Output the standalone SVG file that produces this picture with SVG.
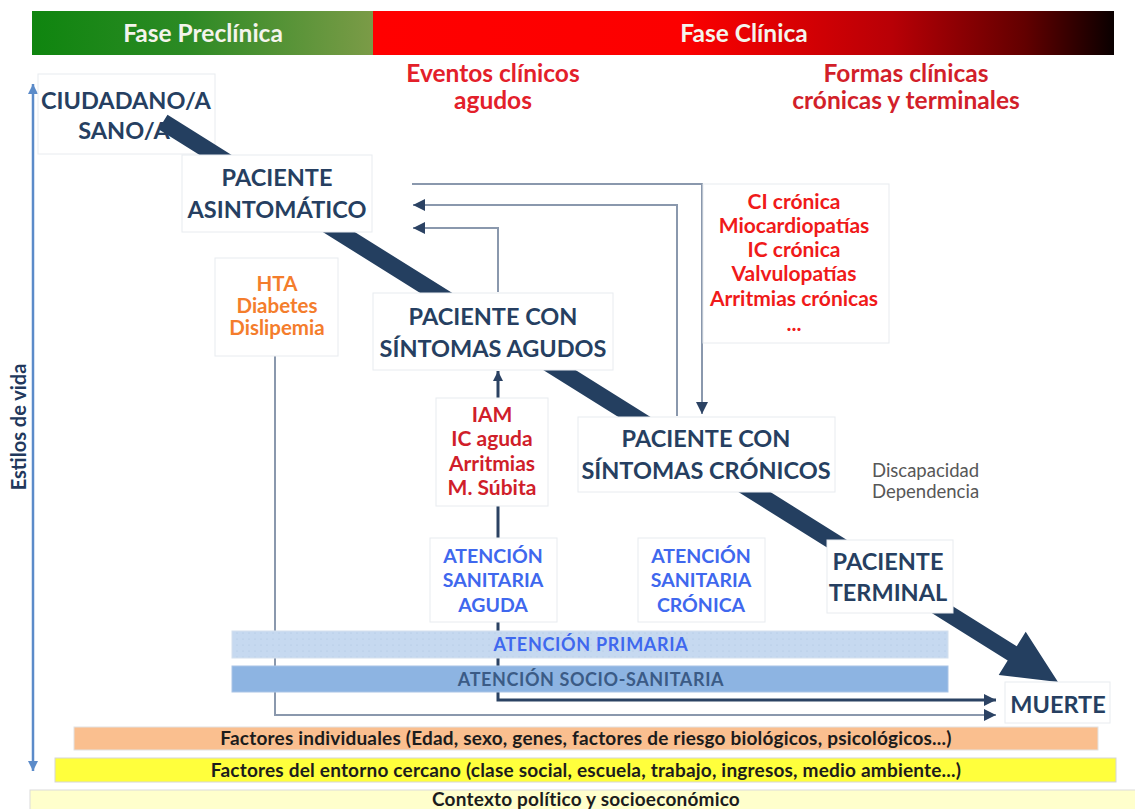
<svg xmlns="http://www.w3.org/2000/svg" width="1135" height="809" viewBox="0 0 1135 809">
  <defs>
    <linearGradient id="gPre" x1="0" y1="0" x2="1" y2="0">
      <stop offset="0" stop-color="#0f850f"/>
      <stop offset="0.45" stop-color="#2c8a24"/>
      <stop offset="1" stop-color="#7b9b47"/>
    </linearGradient>
    <linearGradient id="gCli" x1="0" y1="0" x2="1" y2="0">
      <stop offset="0" stop-color="#ff0000"/>
      <stop offset="0.42" stop-color="#fc0000"/>
      <stop offset="0.7" stop-color="#b80006"/>
      <stop offset="0.88" stop-color="#620000"/>
      <stop offset="1" stop-color="#0a0000"/>
    </linearGradient>
    <pattern id="dots" width="6" height="6" patternUnits="userSpaceOnUse">
      <rect width="6" height="6" fill="#c6d9f0"/>
      <circle cx="3" cy="3" r="0.6" fill="#aec4e0"/>
    </pattern>
    <marker id="tri" viewBox="0 0 10 10" refX="10" refY="5" markerWidth="14" markerHeight="12" markerUnits="userSpaceOnUse" orient="auto">
      <path d="M0,0 L10,5 L0,10 z" fill="#2b4263"/>
    </marker>
    <marker id="triS" viewBox="0 0 10 10" refX="10" refY="5" markerWidth="11" markerHeight="10" markerUnits="userSpaceOnUse" orient="auto">
      <path d="M0,0 L10,5 L0,10 z" fill="#2b4263"/>
    </marker>
    <marker id="axisHead" viewBox="0 0 10 10" refX="10" refY="5" markerWidth="12" markerHeight="10" markerUnits="userSpaceOnUse" orient="auto-start-reverse">
      <path d="M0,0 L10,5 L0,10 z" fill="#5b8bc9"/>
    </marker>
    <style>
      text { font-family: Lato, "Liberation Sans", sans-serif; font-weight: bold; text-anchor: middle; }
      .box { fill: #ffffff; stroke: #e8ebef; stroke-width: 1; }
      .title { fill: #263f61; font-size: 23.5px; }
      .phase { fill: #f4f4ec; font-size: 24.5px; }
      .head { font-size: 24.5px; }
      .red { fill: #f01a1a; font-size: 21px; }
      .dred { fill: #d01e2a; font-size: 21px; }
      .orange { fill: #f47d2c; font-size: 20.5px; }
      .blue { fill: #3f68ee; font-size: 19.5px; }
      .gray { fill: #575757; font-size: 18.5px; font-weight: normal; text-anchor: start; }
      .factor { fill: #1c1c1c; font-size: 19px; letter-spacing: 0.2px; }
      .thin { fill: none; stroke: #8a98ad; stroke-width: 2; }
      .dark { fill: none; stroke: #2b4263; stroke-width: 3; }
    </style>
  </defs>

  <!-- phase banner -->
  <rect x="32" y="11" width="341" height="44" fill="url(#gPre)"/>
  <rect x="373" y="11" width="741" height="44" fill="url(#gCli)"/>
  <text class="phase" x="203" y="42">Fase Preclínica</text>
  <text class="phase" x="744" y="42">Fase Clínica</text>

  <!-- column headings -->
  <text class="head" x="493" y="82" fill="#e3202a">Eventos clínicos</text>
  <text class="head" x="493" y="109" fill="#e3202a">agudos</text>
  <text class="head" x="906" y="82" fill="#d21f2a">Formas clínicas</text>
  <text class="head" x="906" y="109" fill="#d21f2a">crónicas y terminales</text>

  <!-- lifestyle axis -->
  <line x1="33" y1="84" x2="33" y2="771" stroke="#5b8bc9" stroke-width="2.5" marker-start="url(#axisHead)" marker-end="url(#axisHead)"/>
  <text x="18" y="427" transform="rotate(-90 18 427)" fill="#22385c" font-size="20" dominant-baseline="central">Estilos de vida</text>

  <g id="n-ciudadano">
    <rect class="box" x="38" y="74" width="177" height="80"/>
    <text class="title" x="126" y="109">CIUDADANO/A</text>
    <text class="title" x="124" y="139">SANO/A</text>
  </g>

  <g id="connectors">
    <!-- main disease course arrow -->
    <polygon fill="#243f60" points="167.5,114.8 1016.7,646.2 1025.7,631.8 1058,682 998.7,675 1007.7,660.6 158.5,129.2"/>
    <!-- feedback paths -->
    <path class="thin" d="M412,184 H702 V414" marker-end="url(#tri)"/>
    <path class="thin" d="M677,416 V205 H413" marker-end="url(#tri)"/>
    <path class="thin" d="M498,292 V228 H413" marker-end="url(#tri)"/>
    <!-- acute events -->
    <path class="dark" d="M498,398 V371" marker-end="url(#triS)"/>
    <path class="dark" d="M498,506 V538"/>
    <path class="dark" d="M498,622 V700 H996" marker-end="url(#tri)"/>
    <path class="thin" d="M275,350 V715 H996" marker-end="url(#tri)"/>
  </g>

  <!-- care levels -->
  <g id="care-bars">
    <rect x="232" y="631" width="716" height="27" fill="url(#dots)" stroke="#d4e0ee"/>
    <text x="591" y="651" fill="#3f68ee" font-size="18" letter-spacing="0.7">ATENCIÓN PRIMARIA</text>
    <rect x="232" y="666" width="716" height="26" fill="#8db4e2" stroke="#a9c4e6"/>
    <text x="591" y="686" fill="#3b5b86" font-size="18" letter-spacing="0.6">ATENCIÓN SOCIO-SANITARIA</text>
  </g>

  <g id="n-asintomatico">
    <rect class="box" x="182" y="155" width="190" height="77"/>
    <text class="title" x="277" y="186">PACIENTE</text>
    <text class="title" x="277" y="218">ASINTOMÁTICO</text>
  </g>

  <g id="n-factores-riesgo">
    <rect class="box" x="215" y="258" width="123" height="98"/>
    <text class="orange" x="277" y="291">HTA</text>
    <text class="orange" x="277" y="313">Diabetes</text>
    <text class="orange" x="277" y="335">Dislipemia</text>
  </g>

  <g id="n-agudos">
    <rect class="box" x="373" y="293" width="240" height="77"/>
    <text class="title" x="493" y="325">PACIENTE CON</text>
    <text class="title" x="493" y="357">SÍNTOMAS AGUDOS</text>
  </g>

  <g id="n-formas-cronicas">
    <rect class="box" x="703" y="184" width="186" height="159"/>
    <text class="red" x="794" y="209">CI crónica</text>
    <text class="red" x="794" y="233">Miocardiopatías</text>
    <text class="red" x="794" y="257">IC crónica</text>
    <text class="red" x="794" y="281">Valvulopatías</text>
    <text class="red" x="794" y="306">Arritmias crónicas</text>
    <text class="red" x="794" y="331">...</text>
  </g>

  <g id="n-eventos-agudos">
    <rect class="box" x="436" y="398" width="112" height="108"/>
    <text class="dred" x="492" y="422">IAM</text>
    <text class="dred" x="492" y="446">IC aguda</text>
    <text class="dred" x="492" y="471">Arritmias</text>
    <text class="dred" x="492" y="495">M. Súbita</text>
  </g>

  <g id="n-cronicos">
    <rect class="box" x="578" y="417" width="257" height="75"/>
    <text class="title" x="706" y="447">PACIENTE CON</text>
    <text class="title" x="706" y="479">SÍNTOMAS CRÓNICOS</text>
  </g>

  <g id="n-discapacidad">
    <text class="gray" x="872" y="477">Discapacidad</text>
    <text class="gray" x="872" y="498">Dependencia</text>
  </g>

  <g id="n-atencion-aguda">
    <rect class="box" x="430" y="538" width="127" height="84"/>
    <text class="blue" x="493" y="563">ATENCIÓN</text>
    <text class="blue" x="493" y="587">SANITARIA</text>
    <text class="blue" x="493" y="612">AGUDA</text>
  </g>

  <g id="n-atencion-cronica">
    <rect class="box" x="638" y="538" width="127" height="84"/>
    <text class="blue" x="701" y="563">ATENCIÓN</text>
    <text class="blue" x="701" y="587">SANITARIA</text>
    <text class="blue" x="701" y="612">CRÓNICA</text>
  </g>

  <g id="n-terminal">
    <rect class="box" x="827" y="540" width="126" height="73"/>
    <text class="title" x="888" y="570">PACIENTE</text>
    <text class="title" x="888" y="601">TERMINAL</text>
  </g>

  <g id="n-muerte">
    <rect class="box" x="1005" y="682" width="105" height="41"/>
    <text class="title" x="1058" y="713" font-size="24">MUERTE</text>
  </g>

  <!-- determinants -->
  <g id="determinantes">
    <rect x="74" y="727" width="1024" height="23" fill="#fabf8f" stroke="#e2e2e2"/>
    <text class="factor" x="586" y="745">Factores individuales (Edad, sexo, genes, factores de riesgo biológicos, psicológicos...)</text>
    <rect x="55" y="758" width="1061" height="24" fill="#ffff3c" stroke="#d6d6d6"/>
    <text class="factor" x="586" y="777">Factores del entorno cercano (clase social, escuela, trabajo, ingresos, medio ambiente...)</text>
    <rect x="30" y="790" width="1110" height="25" fill="#ffffcc" stroke="#dcdcdc"/>
    <text class="factor" x="586" y="806">Contexto político y socioeconómico</text>
  </g>
</svg>
